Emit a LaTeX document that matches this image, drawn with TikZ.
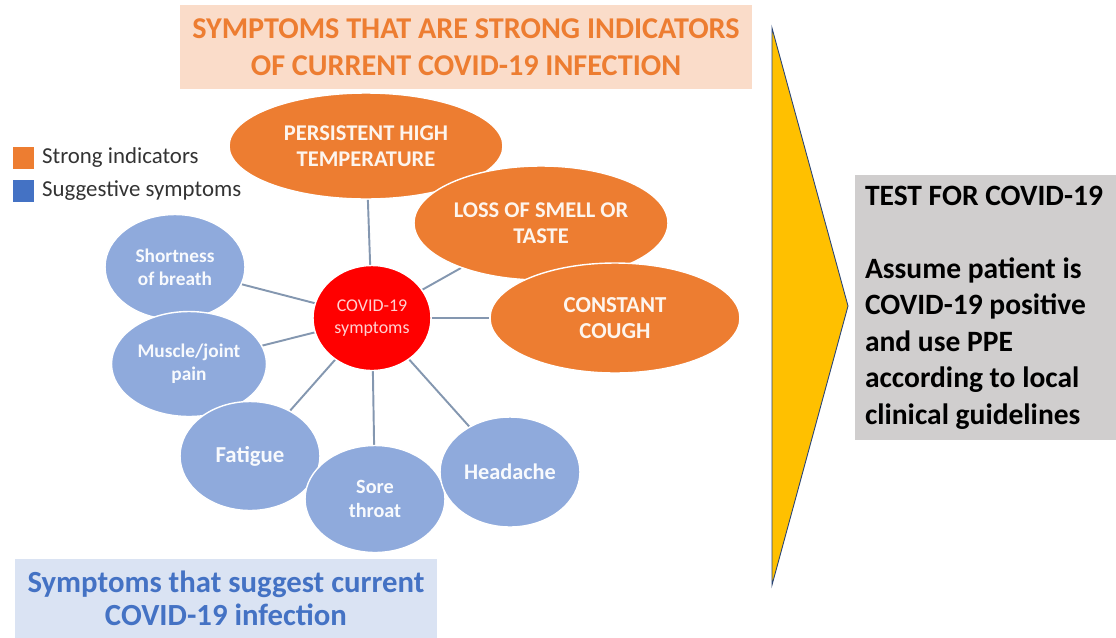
\documentclass[tikz,border=0pt]{standalone}
\usepackage{fontspec}
\setmainfont{Carlito}
\usetikzlibrary{shapes.geometric, positioning, backgrounds}
\definecolor{Orange}  {HTML}{ED7D31}
\definecolor{Peach}   {HTML}{FADCC9}
\definecolor{Blue}    {HTML}{4472C4}
\definecolor{SoftBlue}{HTML}{8FAADC}
\definecolor{PaleBlue}{HTML}{DAE3F3}
\definecolor{Amber}   {HTML}{FFC000}
\definecolor{Slate}   {HTML}{8497B0}
\definecolor{Stone}   {HTML}{D0CECE}

\begin{document}
\begin{tikzpicture}[
  x=0.02cm, y=-0.02cm,
  strong/.style={ellipse,draw=white,line width=0.8pt,fill=Orange,inner sep=0pt,
                 align=center,text=Orange!8,font=\fontsize{12.8}{15}\selectfont\bfseries},
  sugg/.style={ellipse,draw=white,line width=0.8pt,fill=SoftBlue,inner sep=0pt,
               align=center,text=white!94!SoftBlue,font=\fontsize{11}{13}\selectfont\bfseries},
  hub/.style={ellipse,draw=white,line width=0.8pt,fill=red,inner sep=0pt,
              align=center,text=red!18,font=\fontsize{10.2}{12.5}\selectfont},
  banner/.style={inner sep=0pt,align=center},
  key/.style={minimum size=0.44cm,inner sep=0pt},
  link/.style={Slate,line width=1.1pt}
]
  \useasboundingbox (0,0) rectangle (1116,637);

  % headings
  \node[banner,fill=Peach,text=Orange,minimum width=11.44cm,minimum height=1.7cm,
        font=\fontsize{17.2}{21}\selectfont\bfseries] (Top) at (466,47)
        {SYMPTOMS THAT ARE STRONG INDICATORS\\OF CURRENT COVID-19 INFECTION};
  \node[banner,fill=PaleBlue,text=Blue,minimum width=8.44cm,minimum height=1.58cm,
        font=\fontsize{17.5}{18.7}\selectfont\bfseries] (Bottom) at (226,598)
        {Symptoms that suggest current\\COVID-19 infection};

  % legend
  \node[key,fill=Orange] (KeyA) at (23.5,157.5) {};
  \node[key,fill=Blue]   (KeyB) at (23.5,190.5) {};
  \node[right=0.14cm of KeyA,inner sep=0pt,text=black!80,font=\fontsize{13}{15}\selectfont] (LabA) {Strong indicators};
  \node[right=0.14cm of KeyB,inner sep=0pt,text=black!80,font=\fontsize{13}{15}\selectfont] (LabB) {Suggestive symptoms};

  % strong indicators
  \node[strong,minimum width=5.48cm,minimum height=2.12cm] (Temp)  at (366,146) {PERSISTENT HIGH\\TEMPERATURE};
  \node[strong,minimum width=5.08cm,minimum height=2.28cm] (Smell) at (541,223) {LOSS OF SMELL OR\\TASTE};
  \node[strong,minimum width=5cm,minimum height=2.2cm,
        font=\fontsize{13}{15}\selectfont\bfseries]      (Cough) at (615,318) {CONSTANT\\COUGH};

  % suggestive symptoms
  \node[sugg,minimum width=2.8cm,minimum height=2.1cm]  (Breath) at (175,267) {Shortness\\of breath};
  \node[sugg,minimum width=3.1cm,minimum height=2.1cm]  (Muscle) at (189,364) {Muscle/joint\\pain};
  \node[sugg,minimum width=2.8cm,minimum height=2.18cm,
        font=\fontsize{13}{15}\selectfont\bfseries]     (Fatigue) at (250,456) {Fatigue};
  \node[sugg,minimum width=2.8cm,minimum height=2.14cm,
        font=\fontsize{11.5}{14}\selectfont\bfseries]   (Throat) at (375,499) {Sore\\throat};
  \node[sugg,minimum width=2.8cm,minimum height=2.2cm,
        font=\fontsize{12.7}{15}\selectfont\bfseries]   (Head) at (510,472) {Headache};

  \node[hub,minimum width=2.36cm,minimum height=2.1cm] (Hub) at (372,318) {COVID-19\\symptoms};

  \begin{scope}[on background layer]
    \foreach \s in {Temp,Smell,Cough,Breath,Muscle,Fatigue,Throat,Head}
      \draw[link] (Hub) -- (\s);
  \end{scope}

  % pointer and action
  \draw[fill=Amber,draw=Blue!60!black,line width=0.5pt]
    (772,28) -- (848,306) -- (772,585) -- cycle;
  \node[fill=Stone,minimum width=5.22cm,minimum height=5.3cm,inner sep=0pt,
        text width=4.82cm,align=flush left,font=\fontsize{16.8}{20.8}\selectfont\bfseries] (Action) at (985.5,307.5)
        {TEST FOR COVID-19\\[20.8pt]Assume patient is\\COVID-19 positive\\and use PPE\\according to local\\clinical guidelines};
\end{tikzpicture}
\end{document}
